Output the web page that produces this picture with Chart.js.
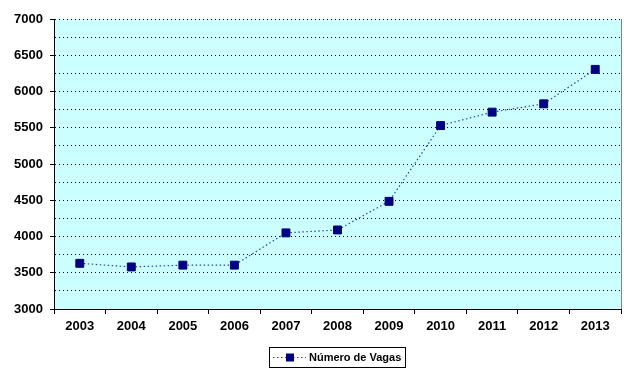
<!DOCTYPE html>
<html>
<head>
<meta charset="utf-8">
<script src="https://cdn.jsdelivr.net/npm/chart.js@4/dist/chart.umd.min.js"></script>
<style>
  html, body { margin: 0; padding: 0; background: #fff; }
  #wrap { width: 640px; height: 382px; }
</style>
</head>
<body>
<div id="wrap"><canvas id="c" width="640" height="382"></canvas></div>
<script>
const years = ['2003','2004','2005','2006','2007','2008','2009','2010','2011','2012','2013'];
const vagas = [3630, 3580, 3605, 3605, 4050, 4090, 4485, 5530, 5715, 5830, 6305];
const seriesLabel = 'Número de Vagas';
const yMin = 3000, yMax = 7000, yStep = 250, yLabelStep = 500;

const FONT = "'Liberation Sans', Arial, sans-serif";

const bgPlugin = {
  id: 'bg',
  beforeDraw(chart) {
    const {ctx, chartArea: a} = chart;
    ctx.save();
    ctx.fillStyle = '#CCFFFF';
    ctx.fillRect(a.left, a.top, a.right - a.left, a.bottom - a.top);
    ctx.restore();
  },
  afterDraw(chart) {
    const {ctx, chartArea: a} = chart;
    ctx.save();
    // right border
    ctx.strokeStyle = '#808080';
    ctx.lineWidth = 1;
    ctx.beginPath();
    ctx.moveTo(Math.round(a.right) + 0.5, a.top);
    ctx.lineTo(Math.round(a.right) + 0.5, a.bottom);
    ctx.stroke();
    // legend
    const bx = 269.5, by = 347.5, bw = 136, bh = 20;
    ctx.strokeStyle = '#000';
    ctx.strokeRect(bx, by, bw, bh);
    const cy = by + bh / 2;
    ctx.strokeStyle = '#3040b0';
    ctx.setLineDash([1.5, 2.5]);
    ctx.beginPath();
    ctx.moveTo(273, cy);
    ctx.lineTo(306, cy);
    ctx.stroke();
    ctx.setLineDash([]);
    ctx.fillStyle = '#000080';
    ctx.fillRect(286, cy - 4, 8, 8);
    ctx.fillStyle = '#000';
    ctx.font = 'bold 11px ' + FONT;
    ctx.textBaseline = 'middle';
    ctx.textAlign = 'left';
    ctx.fillText(chart.data.datasets[0].label, 309, cy + 0.5);
    ctx.restore();
  }
};

new Chart(document.getElementById('c'), {
  type: 'line',
  data: {
    labels: years,
    datasets: [{
      label: seriesLabel,
      data: vagas,
      borderColor: '#3040b0',
      borderWidth: 1.2,
      borderDash: [1.5, 2.5],
      pointStyle: 'rect',
      pointRadius: 5.6,
      pointHoverRadius: 5.6,
      pointBackgroundColor: '#000080',
      pointBorderColor: '#000080',
      pointBorderWidth: 1,
      tension: 0,
      fill: false
    }]
  },
  options: {
    responsive: false,
    animation: false,
    events: [],
    layout: { padding: { top: 19, right: 19, left: 0, bottom: 0 } },
    plugins: {
      legend: { display: false },
      tooltip: { enabled: false }
    },
    scales: {
      x: {
        type: 'category',
        offset: true,
        grid: {
          offset: true,
          drawOnChartArea: false,
          drawTicks: true,
          tickLength: 5,
          color: '#000',
          tickColor: '#000'
        },
        border: { display: true, color: '#000', width: 1 },
        ticks: {
          color: '#000',
          padding: 5,
          maxRotation: 0,
          autoSkip: false,
          font: { family: FONT, size: 13, weight: 'bold' }
        },
        afterFit(scale) { scale.height = 73; }
      },
      y: {
        min: yMin,
        max: yMax,
        grid: {
          color: '#000',
          lineWidth: 1,
          drawTicks: true,
          tickLength: 4,
          tickColor: (c) => (c.tick && c.tick.value % yLabelStep === 0) ? '#000' : 'rgba(0,0,0,0)'
        },
        border: { display: true, color: '#000', width: 1, dash: [1, 3] },
        ticks: {
          stepSize: yStep,
          color: '#000',
          padding: 7,
          autoSkip: false,
          font: { family: FONT, size: 13, weight: 'bold' },
          callback: (v) => (v % yLabelStep === 0) ? String(v) : ''
        },
        afterFit(scale) { scale.width = 54; }
      }
    }
  },
  plugins: [bgPlugin]
});
</script>
</body>
</html>
